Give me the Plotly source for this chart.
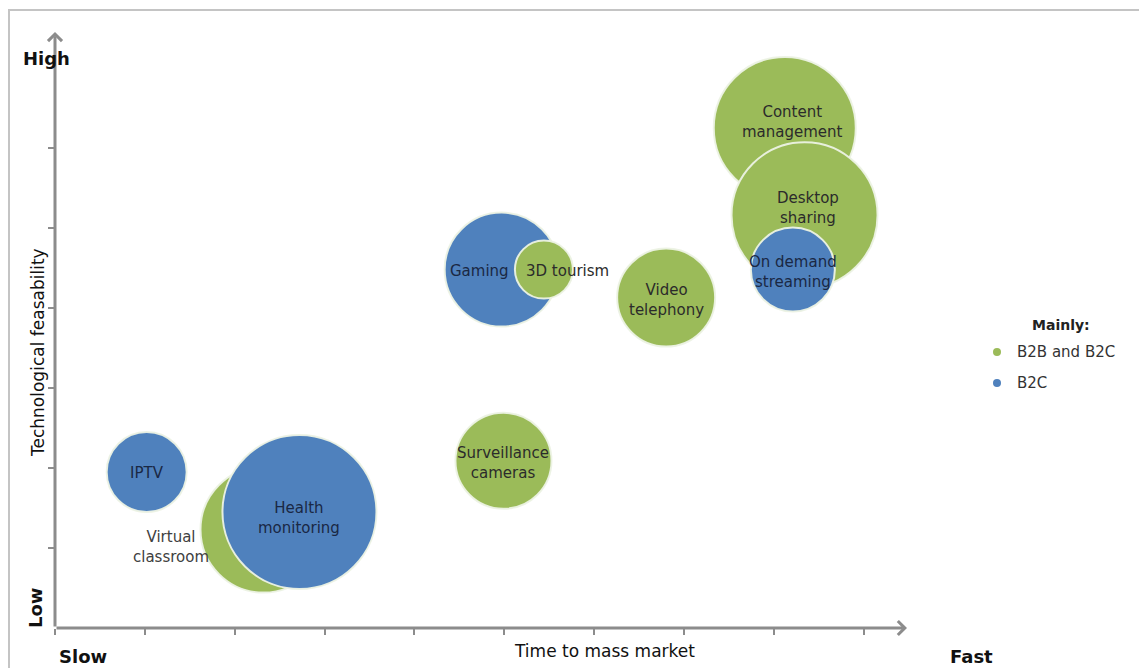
import plotly.graph_objects as go

# ---------------- data ----------------
names = ["IPTV", "Virtual classroom", "Health monitoring", "Surveillance cameras",
         "Gaming", "3D tourism", "Video telephony", "Content management",
         "Desktop sharing", "On demand streaming"]
time_to_market = [1.02, 2.32, 2.72, 4.99, 4.97, 5.44, 6.80, 8.12, 8.34, 8.21]
feasibility = [1.95, 1.23, 1.45, 2.09, 4.48, 4.48, 4.13, 6.25, 5.16, 4.48]
bubble_size = [80, 126, 154, 96, 114, 58, 98, 142, 146, 84]
segment = ["B2C", "B2B and B2C", "B2C", "B2B and B2C", "B2C", "B2B and B2C",
           "B2B and B2C", "B2B and B2C", "B2B and B2C", "B2C"]
segments = ["B2B and B2C", "B2C"]
x_ticks = list(range(10))
y_ticks = list(range(1, 7))
x_label = "Time to mass market"
y_label = "Technological feasability"

# ---------------- styles ----------------
W, H = 1139, 668
ML, MR, MT, MB = 55, 232, 32, 40
PW, PH = W - ML - MR, H - MT - MB
XMAX, YMAX = 9.48, 7.45
GREEN, BLUE = "#9bbb59", "#4f81bd"
seg_color = {"B2B and B2C": GREEN, "B2C": BLUE}
text_color = {"B2B and B2C": "#2b2b2b", "B2C": "#1a2844"}
AXIS = "#8c8c8c"
FONT = "DejaVu Sans"

label_text = {
    "IPTV": "IPTV", "Virtual classroom": "Virtual<br>classroom",
    "Health monitoring": "Health<br>monitoring", "Surveillance cameras": "Surveillance<br>cameras",
    "Gaming": "Gaming", "3D tourism": "3D tourism", "Video telephony": "Video<br>telephony",
    "Content management": "Content<br>management", "Desktop sharing": "Desktop<br>sharing",
    "On demand streaming": "On demand<br>streaming",
}
label_shift = {  # pixel offsets (x, y up)
    "IPTV": (0, -1), "Virtual classroom": (-93, -17), "Health monitoring": (0, -6),
    "Surveillance cameras": (0, -2), "Gaming": (-22, -1), "3D tourism": (24, -1),
    "Video telephony": (0, -2), "Content management": (8, 6), "Desktop sharing": (3, 7),
    "On demand streaming": (0, -2),
}


def px(xp):
    return (xp - ML) / PW


def py(yp):
    return (H - MB - yp) / PH


def ptext(x, y, text, font, **kw):
    d = dict(x=px(x), y=py(y), xref="paper", yref="paper", text=text, showarrow=False,
             xanchor="center", yanchor="middle", font=font)
    d.update(kw)
    return d


fig = go.Figure()
fig.add_trace(go.Scatter(
    x=time_to_market, y=feasibility, mode="markers",
    marker=dict(size=bubble_size, sizemode="diameter", sizeref=1,
                color=[seg_color[s] for s in segment], opacity=1,
                line=dict(color="rgba(236,242,228,0.95)", width=2)),
    hoverinfo="skip", showlegend=False, cliponaxis=False,
))

ann = []
for n, xv, yv, s in zip(names, time_to_market, feasibility, segment):
    dx, dy = label_shift[n]
    col = "#404040" if n == "Virtual classroom" else text_color[s]
    ann.append(dict(x=xv, y=yv, xref="x", yref="y", text=label_text[n], showarrow=False,
                    xanchor="center", yanchor="middle",
                    xshift=dx, yshift=dy, font=dict(family=FONT, size=15, color=col)))

# axes arrows
ann.append(dict(x=XMAX, y=0, ax=0, ay=0, xref="x", yref="y", axref="x", ayref="y", text="",
                showarrow=True, arrowhead=4, arrowsize=0.9, arrowwidth=3, arrowcolor=AXIS,
                standoff=0, startstandoff=0))
ann.append(dict(x=0, y=YMAX, ax=0, ay=0, xref="x", yref="y", axref="x", ayref="y", text="",
                showarrow=True, arrowhead=4, arrowsize=0.9, arrowwidth=3, arrowcolor=AXIS,
                standoff=0, startstandoff=0))

bold = dict(family=FONT, size=18, color="#111111")
ann += [
    ptext(46, 58, "<b>High</b>", bold),
    ptext(35, 608, "<b>Low</b>", bold, textangle=-90),
    ptext(83, 656, "<b>Slow</b>", bold),
    ptext(971, 656, "<b>Fast</b>", bold),
    ptext(604, 651, x_label, dict(family=FONT, size=17, color="#111111")),
    ptext(38, 353, y_label, dict(family=FONT, size=17, color="#111111"), textangle=-90),
    ptext(1061, 325, "<b>Mainly:</b>", dict(family=FONT, size=14, color="#222222")),
]

shapes = [dict(type="rect", xref="paper", yref="paper", x0=px(9), x1=px(1150), y0=py(690), y1=py(10),
               line=dict(color="#c4c4c4", width=2), fillcolor="rgba(0,0,0,0)", layer="below")]

for i, s in enumerate(segments):
    yc = 352 + 31 * i
    shapes.append(dict(type="circle", xref="paper", yref="paper", x0=px(993), x1=px(1001),
                       y0=py(yc + 4), y1=py(yc - 4), fillcolor=seg_color[s], line=dict(width=0)))
    ann.append(ptext(1015, yc, s, dict(family=FONT, size=15, color="#333333"), xanchor="left"))

fig.update_layout(
    width=W, height=H, margin=dict(l=ML, r=MR, t=MT, b=MB, pad=0),
    paper_bgcolor="white", plot_bgcolor="white",
    xaxis=dict(range=[0, XMAX], showgrid=False, zeroline=False, showline=False,
               tickvals=x_ticks, showticklabels=False, ticks="outside", ticklen=6,
               tickwidth=2, tickcolor=AXIS, fixedrange=True),
    yaxis=dict(range=[0, YMAX], showgrid=False, zeroline=False, showline=False,
               tickvals=y_ticks, showticklabels=False, ticks="outside", ticklen=6,
               tickwidth=2, tickcolor=AXIS, fixedrange=True),
    annotations=ann, shapes=shapes, showlegend=False,
)

fig.write_html("out.html")
